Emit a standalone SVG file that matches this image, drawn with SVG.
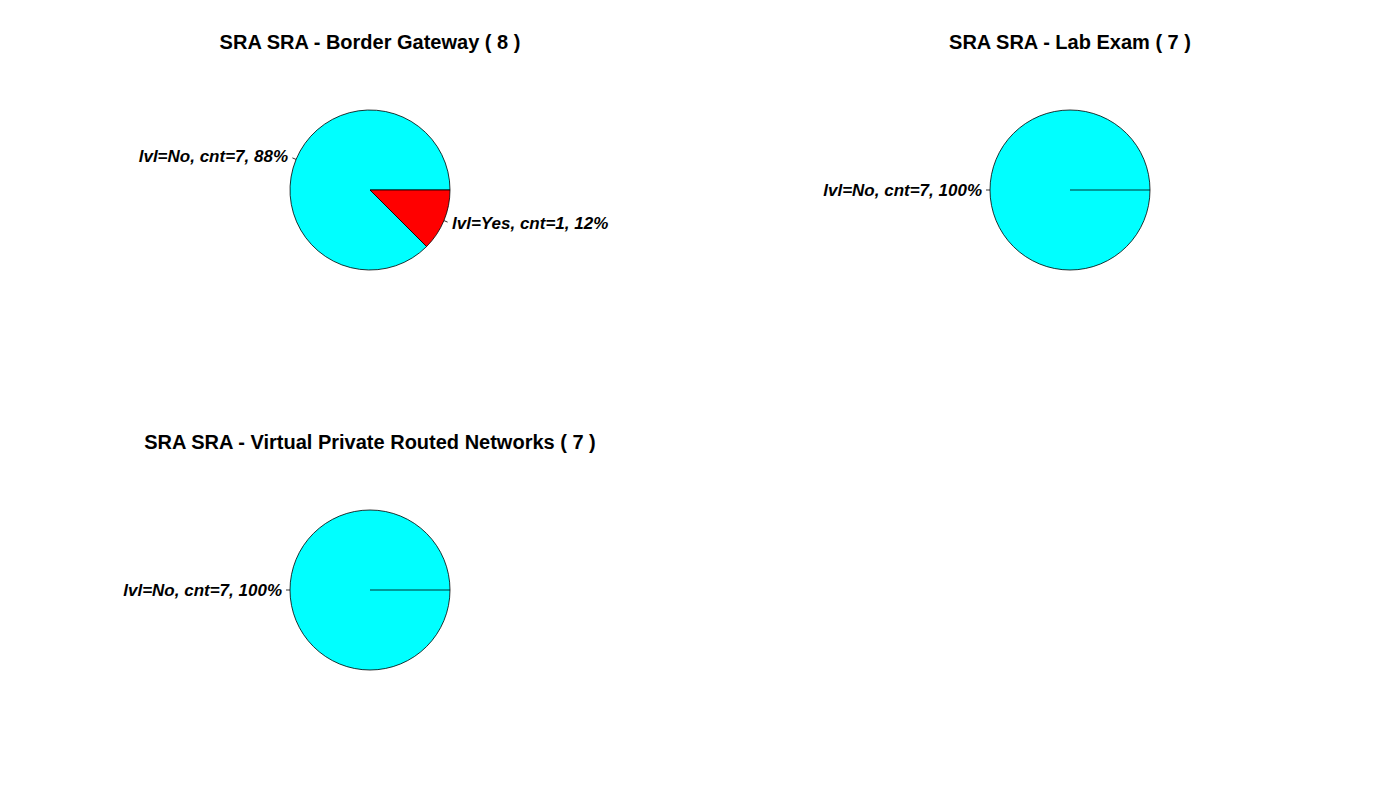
<svg xmlns="http://www.w3.org/2000/svg" width="1400" height="800" viewBox="0 0 1400 800">
<style>
.title{font-family:"Liberation Sans",Arial,sans-serif;font-weight:bold;font-size:20px;text-anchor:middle;fill:#000}
.lbl{font-family:"Liberation Sans",Arial,sans-serif;font-weight:bold;font-style:italic;font-size:17px;fill:#000}
.sl{stroke:#000;stroke-width:0.8}
.tick{stroke:#000;stroke-width:0.8;fill:none}
</style>
<rect width="1400" height="800" fill="#fff"/>
<g id="pie1">
<text class="title" x="370" y="48.5">SRA SRA - Border Gateway ( 8 )</text>
<path class="sl" fill="#00ffff" d="M370,190 L450,190 A80,80 0 1,0 426.57,246.57 Z"/>
<path class="sl" fill="#ff0000" d="M370,190 L426.57,246.57 A80,80 0 0,0 450,190 Z"/>
<line class="tick" x1="296.1" y1="159.4" x2="292.4" y2="157.9"/>
<text class="lbl" x="288" y="161.5" text-anchor="end">lvl=No, cnt=7, 88%</text>
<line class="tick" x1="443.9" y1="220.6" x2="447.6" y2="222.1"/>
<text class="lbl" x="452" y="228.5">lvl=Yes, cnt=1, 12%</text>
</g>
<g id="pie2">
<text class="title" x="1070" y="48.5">SRA SRA - Lab Exam ( 7 )</text>
<circle class="sl" cx="1070" cy="190" r="80" fill="#00ffff"/>
<line class="sl" x1="1070" y1="190" x2="1150" y2="190"/>
<line class="tick" x1="990" y1="190" x2="986" y2="190"/>
<text class="lbl" x="982" y="195.5" text-anchor="end">lvl=No, cnt=7, 100%</text>
</g>
<g id="pie3">
<text class="title" x="370" y="448.5">SRA SRA - Virtual Private Routed Networks ( 7 )</text>
<circle class="sl" cx="370" cy="590" r="80" fill="#00ffff"/>
<line class="sl" x1="370" y1="590" x2="450" y2="590"/>
<line class="tick" x1="290" y1="590" x2="286" y2="590"/>
<text class="lbl" x="282" y="595.5" text-anchor="end">lvl=No, cnt=7, 100%</text>
</g>
<g id="connectors"></g>
</svg>
